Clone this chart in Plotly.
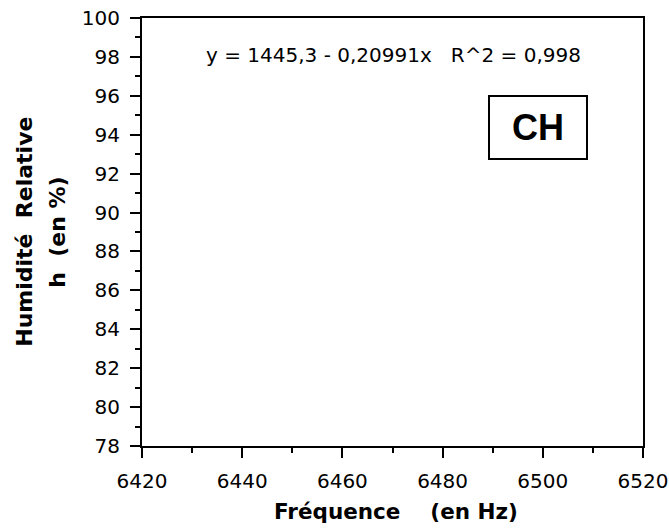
import plotly.graph_objects as go

# Axis tick values
x_ticks = [6420, 6440, 6460, 6480, 6500, 6520]
y_ticks = [78, 80, 82, 84, 86, 88, 90, 92, 94, 96, 98, 100]
x_range = [6420, 6520]
y_range = [78, 100]

equation_text = "y = 1445,3 - 0,20991x   R^2 = 0,998"
label_text = "CH"
x_title = "Fréquence    (en Hz)"
y_title_line1 = "Humidité  Relative"
y_title_line2 = "h  (en %)"

FONT = "DejaVu Sans, Arial, sans-serif"

fig = go.Figure()
fig.add_trace(go.Scatter(x=[], y=[], mode="markers", showlegend=False))

axis_common = dict(
    showline=True, linecolor="black", linewidth=2, mirror=True,
    showgrid=False, zeroline=False, ticks="outside", ticklen=10, tickwidth=2,
    tickcolor="black", tickfont=dict(family=FONT, size=20, color="black"),
)

fig.update_xaxes(range=x_range, tickvals=x_ticks, ticklabelstandoff=6, **axis_common,
                 minor=dict(dtick=10, ticks="outside", ticklen=5, tickwidth=2, tickcolor="black"))
fig.update_yaxes(range=y_range, tickvals=y_ticks, ticklabelstandoff=6, **axis_common,
                 minor=dict(dtick=1, ticks="outside", ticklen=5, tickwidth=2, tickcolor="black"))

fig.add_annotation(x=0.501, y=0.914, xref="paper", yref="paper", text=equation_text,
                   showarrow=False, font=dict(family=FONT, size=20, color="black"),
                   xanchor="center", yanchor="middle")
fig.add_annotation(x=0.79, y=0.743, xref="paper", yref="paper", text="<b>" + label_text + "</b>",
                   showarrow=False, font=dict(family="Liberation Sans, Arial, sans-serif", size=36, color="black"),
                   bordercolor="black", borderwidth=2, borderpad=0, bgcolor="white",
                   width=96, height=61, align="center",
                   xanchor="center", yanchor="middle")
fig.add_annotation(x=0.506, y=-0.154, xref="paper", yref="paper", text="<b>" + x_title + "</b>",
                   showarrow=False, font=dict(family=FONT, size=21.5, color="black"),
                   xanchor="center", yanchor="middle")
fig.add_annotation(x=-0.236, y=0.5, xref="paper", yref="paper", text="<b>" + y_title_line1 + "</b>",
                   showarrow=False, textangle=-90, font=dict(family=FONT, size=22, color="black"),
                   xanchor="center", yanchor="middle")
fig.add_annotation(x=-0.17, y=0.5, xref="paper", yref="paper", text="<b>" + y_title_line2 + "</b>",
                   showarrow=False, textangle=-90, font=dict(family=FONT, size=22, color="black"),
                   xanchor="center", yanchor="middle")

fig.update_layout(
    width=669, height=528,
    margin=dict(l=142, r=26, t=18, b=82, autoexpand=False),
    paper_bgcolor="white", plot_bgcolor="white",
    showlegend=False,
)

fig.write_html("out.html", config={"displayModeBar": False},
               post_script="document.body.style.margin='0';")
